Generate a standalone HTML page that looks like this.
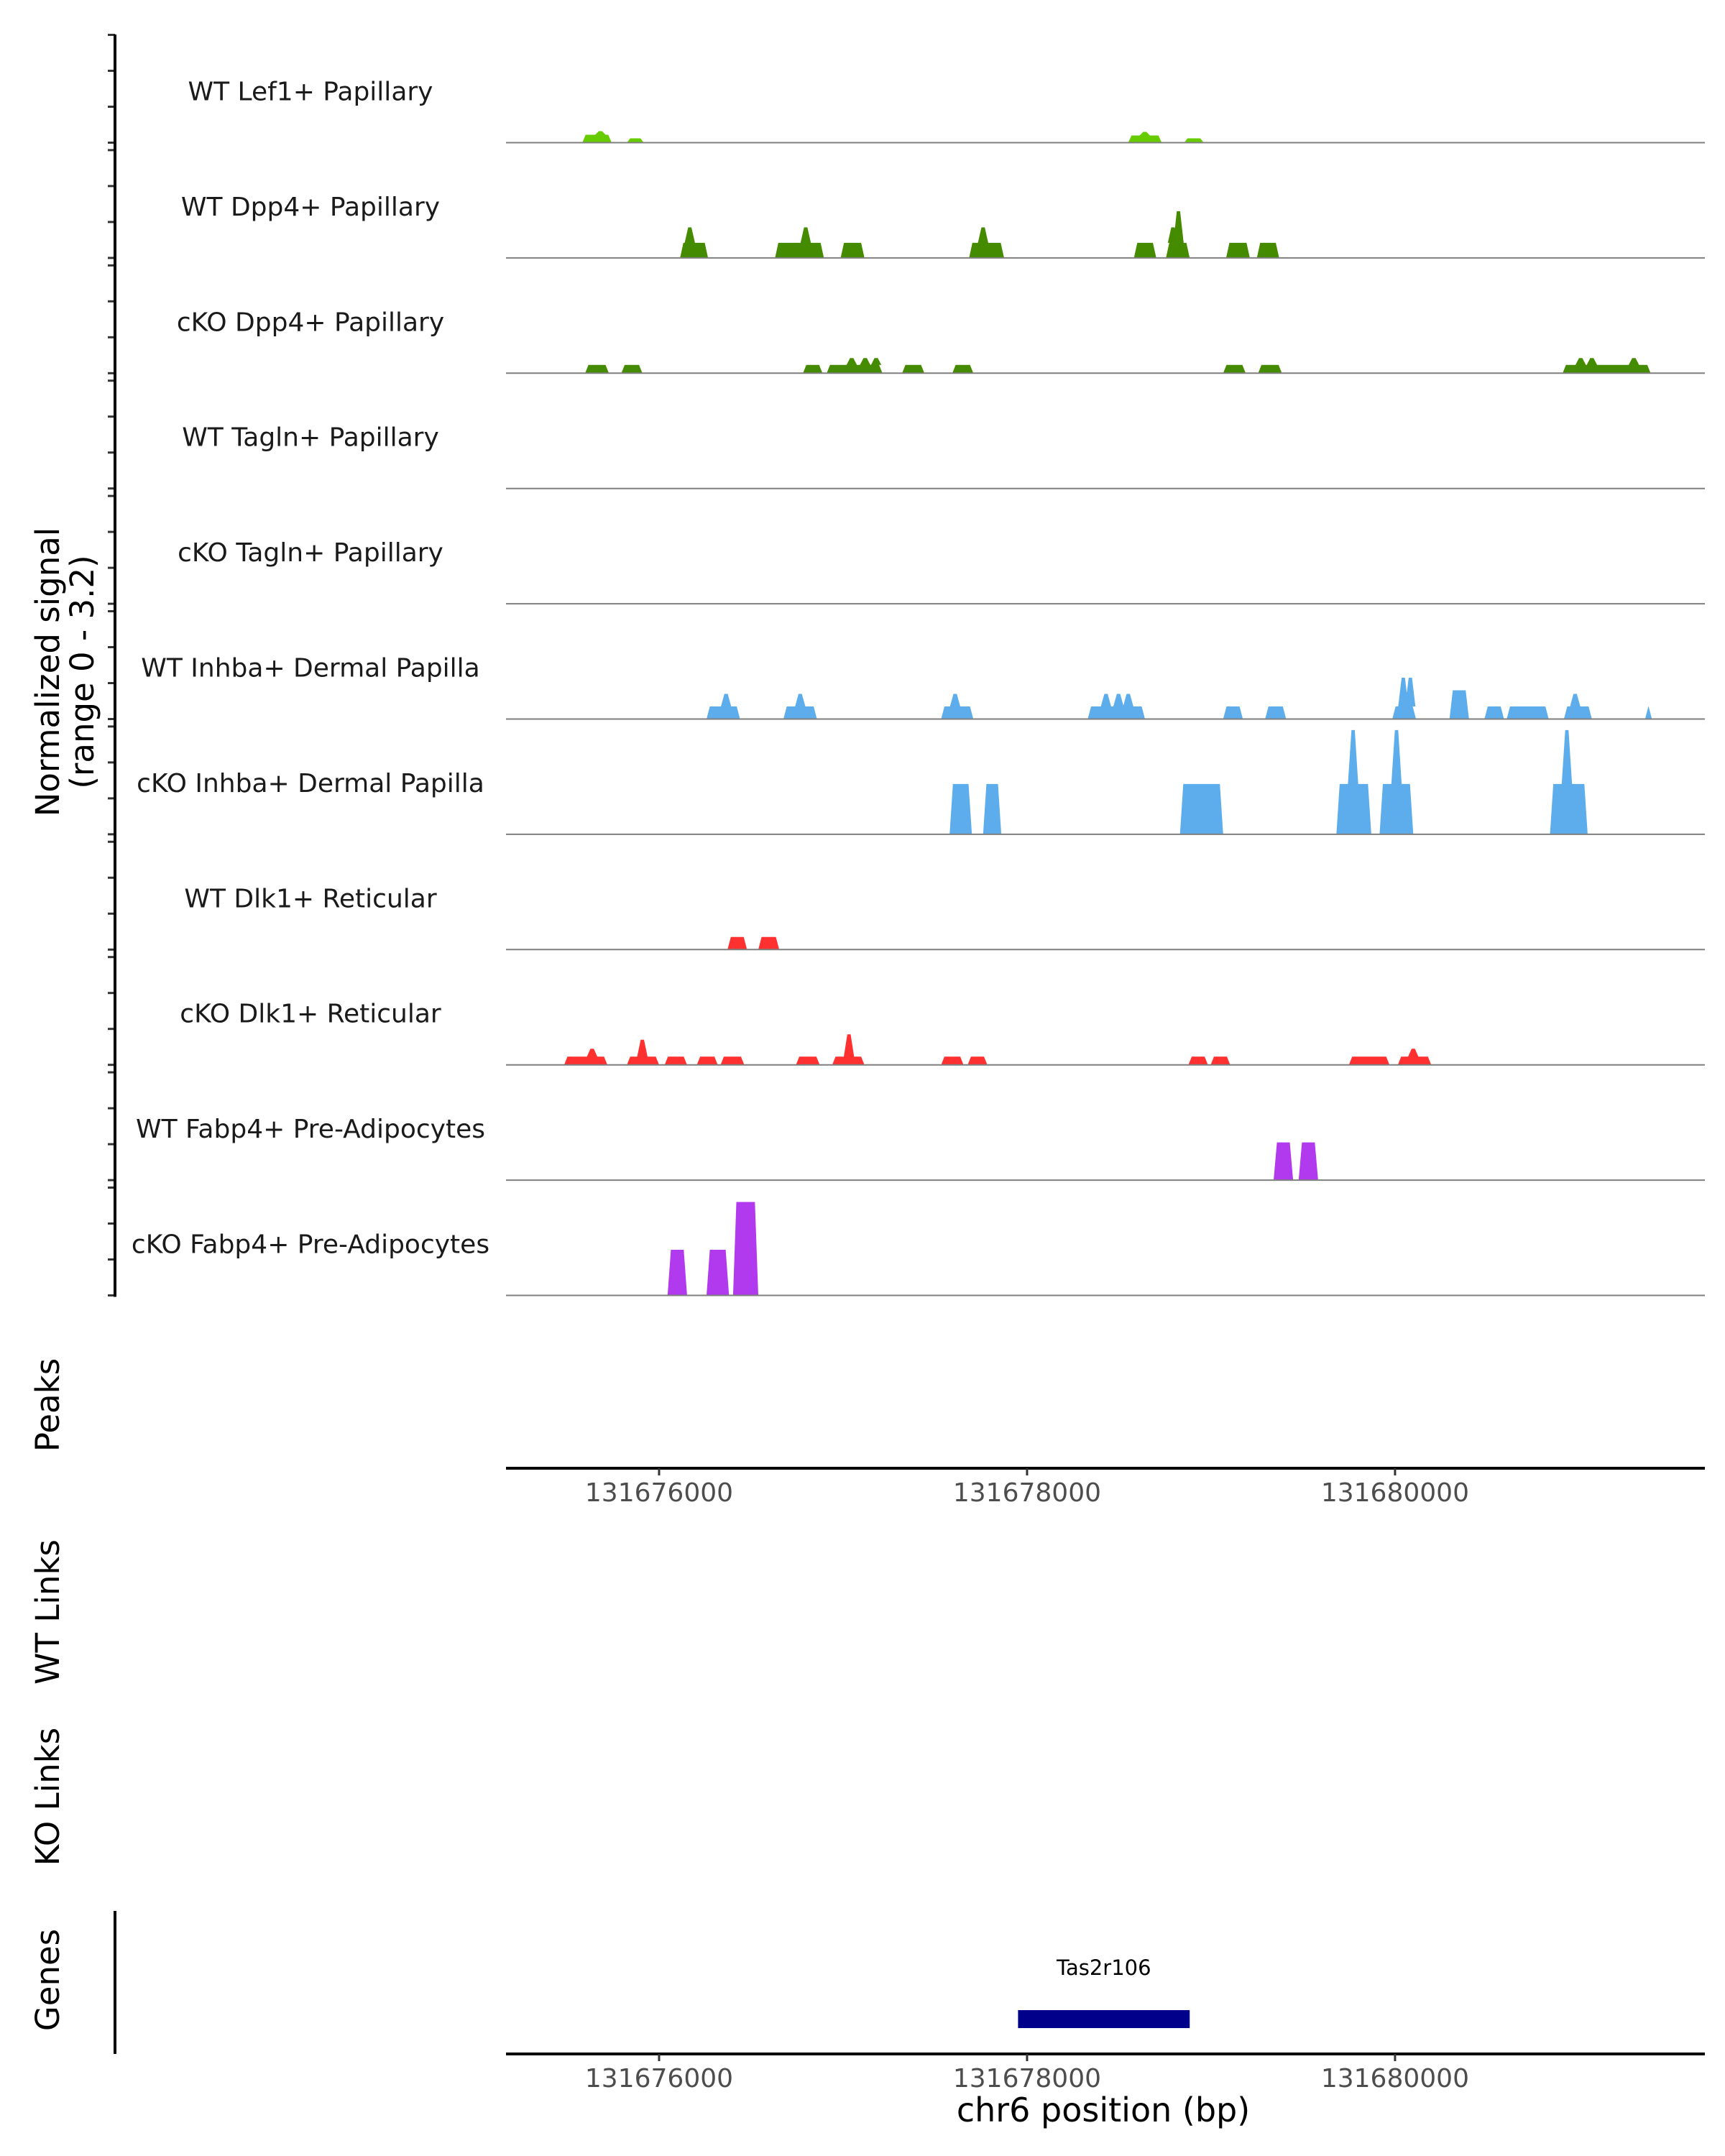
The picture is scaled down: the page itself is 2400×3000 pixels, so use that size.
<!DOCTYPE html>
<html><head><meta charset="utf-8"><style>
html,body{margin:0;padding:0;background:#fff}
svg{display:block;font-family:"DejaVu Sans","Liberation Sans",sans-serif}
</style></head><body>
<svg id="chart" width="2400" height="3000" viewBox="0 0 2400 3000" xmlns="http://www.w3.org/2000/svg">
<g id="tracks"></g>
<g id="axes"></g>
</svg>
<script>
// ---- data ----
const trackNames = ["WT Lef1+ Papillary","WT Dpp4+ Papillary","cKO Dpp4+ Papillary","WT Tagln+ Papillary","cKO Tagln+ Papillary","WT Inhba+ Dermal Papilla","cKO Inhba+ Dermal Papilla","WT Dlk1+ Reticular","cKO Dlk1+ Reticular","WT Fabp4+ Pre-Adipocytes","cKO Fabp4+ Pre-Adipocytes"];
const trackColors = ["#66CC00","#458B00","#458B00","#66CC00","#66CC00","#5DADEC","#5DADEC","#FF3030","#FF3030","#B23AEE","#B23AEE"];
// peaks: [start, end, height, [[spikePos, spikeHeight], ...]]
const peaksLef1 = [[131675583,131675742,0.22,[[131675681,0.32]]],[131675825,131675917,0.12,[]],[131678550,131678732,0.2,[[131678640,0.3]]],[131678854,131678960,0.12,[]]];
const peaksWTDpp4 = [[131676114,131676266,0.42,[[131676167,0.85]]],[131676630,131676896,0.42,[[131676797,0.85]]],[131676987,131677116,0.42,[]],[131677685,131677875,0.42,[[131677761,0.85]]],[131678581,131678702,0.42,[]],[131678755,131678884,0.42,[[131678793,0.85],[131678823,1.3]]],[131679082,131679211,0.42,[]],[131679249,131679370,0.42,[]]];
const peaksKODpp4 = [[131675598,131675727,0.23,[]],[131675795,131675909,0.23,[]],[131676782,131676888,0.23,[]],[131676911,131677214,0.23,[[131677047,0.42],[131677120,0.42],[131677180,0.42]]],[131677321,131677442,0.23,[]],[131677594,131677708,0.23,[]],[131679066,131679188,0.23,[]],[131679256,131679385,0.23,[]],[131680911,131681389,0.23,[[131681009,0.42],[131681070,0.42],[131681298,0.42]]]];
const peaksWTTagln = [];
const peaksKOTagln = [];
const peaksWTInhba = [[131676258,131676440,0.35,[[131676364,0.7]]],[131676676,131676858,0.35,[[131676767,0.7]]],[131677533,131677708,0.35,[[131677609,0.7]]],[131678330,131678641,0.35,[[131678429,0.7],[131678497,0.7],[131678550,0.7]]],[131679066,131679173,0.35,[]],[131679294,131679408,0.35,[]],[131679985,131680114,0.35,[[131680045,1.15],[131680083,1.15]]],[131680296,131680402,0.8,[]],[131680486,131680592,0.35,[]],[131680607,131680835,0.35,[]],[131680918,131681070,0.35,[[131680979,0.7]]],[131681359,131681396,0.35,[]]];
const peaksKOInhba = [[131677579,131677700,1.4,[]],[131677761,131677860,1.4,[]],[131678831,131679066,1.4,[]],[131679681,131679871,1.4,[[131679772,2.9]]],[131679916,131680099,1.4,[[131680008,2.9]]],[131680842,131681047,1.4,[[131680934,2.9]]]];
const peaksWTDlk1 = [[131676372,131676478,0.35,[]],[131676539,131676653,0.35,[]]];
const peaksKODlk1 = [[131675484,131675719,0.23,[[131675636,0.45]]],[131675825,131676000,0.23,[[131675909,0.7]]],[131676030,131676152,0.23,[]],[131676205,131676319,0.23,[]],[131676334,131676463,0.23,[]],[131676744,131676873,0.23,[]],[131676941,131677116,0.23,[[131677032,0.85]]],[131677533,131677655,0.23,[]],[131677677,131677784,0.23,[]],[131678877,131678983,0.23,[]],[131678998,131679104,0.23,[]],[131679749,131679970,0.23,[]],[131680015,131680197,0.23,[[131680099,0.45]]]];
const peaksWTFabp4 = [[131679340,131679446,1.05,[]],[131679476,131679582,1.05,[]]];
const peaksKOFabp4 = [[131676046,131676152,1.27,[]],[131676258,131676380,1.27,[]],[131676402,131676539,2.6,[]]];
const trackPeaks = [peaksLef1,peaksWTDpp4,peaksKODpp4,peaksWTTagln,peaksKOTagln,peaksWTInhba,peaksKOInhba,peaksWTDlk1,peaksKODlk1,peaksWTFabp4,peaksKOFabp4];
const xTicks = [131676000,131678000,131680000];
const xTickLabels = ["131676000","131678000","131680000"];
const geneName = "Tas2r106";
const geneStart = 131677951, geneEnd = 131678884;
const yMax = 3.2;

// ---- scales ----
const PX0=704, PX1=2372, D0=131675168, D1=131681684;
const x = v => PX0 + (v-D0)/(D1-D0)*(PX1-PX0);
const base0 = 198.5, step = 160.4, trackH = 160;
const yT = (i,v) => base0 + i*step - v/yMax*trackH;
const NS="http://www.w3.org/2000/svg";
const svg=document.getElementById('chart');
const tracksG=document.getElementById('tracks');
const axesG=document.getElementById('axes');
function mk(tag,attrs,parent,text){const e=document.createElementNS(NS,tag);for(const k in attrs)e.setAttribute(k,attrs[k]);if(text!==undefined)e.textContent=text;parent.appendChild(e);return e;}

trackNames.forEach((name,i)=>{
  const g=mk('g',{},tracksG);
  
  
  const base=yT(i,0);
  trackPeaks[i].forEach(p=>{
    const [s,e,h,sp]=p;
    const r=18;
    const pts=[[x(s),base],[x(s+r),yT(i,h)]];
    sp.slice().sort((a,b)=>a[0]-b[0]).forEach(q=>{
      pts.push([x(q[0]-28),yT(i,h)]);
      pts.push([x(q[0]-9),yT(i,q[1])]);
      pts.push([x(q[0]+9),yT(i,q[1])]);
      pts.push([x(q[0]+28),yT(i,h)]);
    });
    pts.push([x(e-r),yT(i,h)],[x(e),base]);
    const poly=mk('polygon',{points:pts.map(a=>a[0].toFixed(1)+','+a[1].toFixed(1)).join(' '),fill:trackColors[i]},g);
    
    
  });
  const bl=mk('line',{x1:PX0,x2:PX1,y1:base,y2:base,stroke:'#7f7f7f','stroke-width':2},g);
  
  
  const lab=mk('text',{x:432,y:base-59,'font-size':36,'text-anchor':'middle',fill:'#1a1a1a'},g,name);
  
  
  for(let k=0;k<4;k++){
    const ty=base-k*50;
    const t=mk('line',{x1:150,x2:160,y1:ty,y2:ty,stroke:'#333','stroke-width':3},axesG);
    
    
  }
});
const ya=mk('line',{x1:160,x2:160,y1:48,y2:yT(10,0)+2,stroke:'#000','stroke-width':4},axesG);



function vtext(txt,cx,cy,size,name){
  const t=mk('text',{x:cx,y:cy,'font-size':size,'text-anchor':'middle',transform:`rotate(-90 ${cx} ${cy})`,fill:'#000'},axesG,txt);
  
  
}
vtext('Normalized signal',82,935,45,'y-axis-title');
vtext('(range 0 - 3.2)',130,935,45,'y-axis-subtitle');
vtext('Peaks',82,1955,45,'peaks-track-title');
vtext('WT Links',82,2243,45,'wt-links-title');
vtext('KO Links',82,2500,45,'ko-links-title');
vtext('Genes',82,2755,45,'genes-track-title');

function xAxis(yy,name){
  const a=mk('line',{x1:PX0,x2:PX1,y1:yy,y2:yy,stroke:'#000','stroke-width':4},axesG);
  
  
  xTicks.forEach((v,j)=>{
    const t=mk('line',{x1:x(v),x2:x(v),y1:yy,y2:yy+10,stroke:'#333','stroke-width':3},axesG);
    
    
    const l=mk('text',{x:x(v),y:yy+46,'font-size':36,'text-anchor':'middle',fill:'#4d4d4d'},axesG,xTickLabels[j]);
    
    
  });
}
xAxis(2043,'peaks-x-axis');
xAxis(2858,'genes-x-axis');
const gl=mk('line',{x1:160,x2:160,y1:2659,y2:2858,stroke:'#000','stroke-width':4},axesG);


const gb=mk('rect',{x:x(geneStart),y:2797,width:x(geneEnd)-x(geneStart),height:25,fill:'#00008B'},axesG);


const gt=mk('text',{x:(x(geneStart)+x(geneEnd))/2,y:2748,'font-size':29,'text-anchor':'middle',fill:'#000'},axesG,geneName);


const xt=mk('text',{x:1535,y:2952,'font-size':46,'text-anchor':'middle',fill:'#000'},axesG,'chr6 position (bp)');


</script>
</body></html>
